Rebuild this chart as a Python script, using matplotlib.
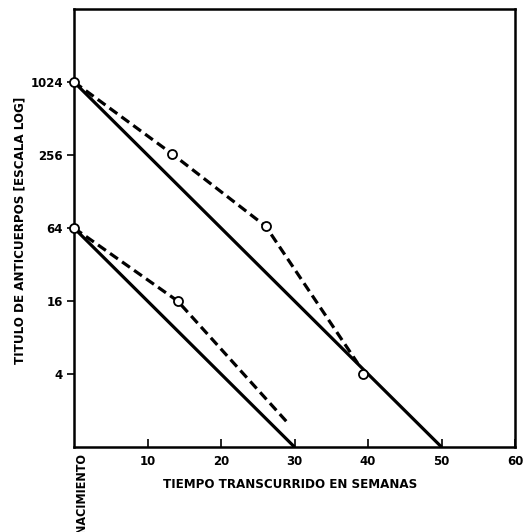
import matplotlib
matplotlib.use("Agg")
import matplotlib.pyplot as plt
from matplotlib.ticker import FixedLocator, NullLocator

# Solid reference lines (theoretical decay)
solid_hi_weeks = [0, 50]
solid_hi_titer = [1024, 1]
solid_lo_weeks = [0, 30]
solid_lo_titer = [64, 1]

# Dashed observed curves
dash_hi_weeks = [0, 13.4, 26.1, 38.6]
dash_hi_titer = [1024, 260, 66, 4.9]
dash_lo_weeks = [0, 14.1, 29.0]
dash_lo_titer = [64, 16, 1.6]

# Open-circle points
pts_hi_weeks = [0, 13.4, 26.1, 39.3]
pts_hi_titer = [1024, 260, 66, 4.0]
pts_lo_weeks = [0, 14.1]
pts_lo_titer = [64, 16]

y_ticks = [4, 16, 64, 256, 1024]
x_ticks = [10, 20, 30, 40, 50, 60]

W, H = 523, 532
fig = plt.figure(figsize=(W / 100, H / 100), dpi=100)
ax = fig.add_axes([74 / W, 1 - 447 / H, 441 / W, 438 / H])

ax.set_yscale("log", base=2)
ax.set_xlim(0, 60)
ax.set_ylim(1, 4096)

lw = 2.3
ax.plot(solid_hi_weeks, solid_hi_titer, color="black", lw=lw, solid_capstyle="butt")
ax.plot(solid_lo_weeks, solid_lo_titer, color="black", lw=lw, solid_capstyle="butt")
ax.plot(dash_hi_weeks, dash_hi_titer, color="black", lw=lw, ls=(0, (3.0, 1.6)))
ax.plot(dash_lo_weeks, dash_lo_titer, color="black", lw=lw, ls=(0, (3.0, 1.6)))

mk = dict(ls="none", marker="o", ms=6.5, mfc="white", mec="black", mew=1.3,
          zorder=5, clip_on=False)
ax.plot(pts_hi_weeks, pts_hi_titer, **mk)
ax.plot(pts_lo_weeks, pts_lo_titer, **mk)

for s in ax.spines.values():
    s.set_linewidth(1.8)

ax.yaxis.set_major_locator(FixedLocator(y_ticks))
ax.yaxis.set_minor_locator(NullLocator())
ax.set_yticklabels([str(v) for v in y_ticks], fontsize=8.5, fontweight="bold")
ax.tick_params(axis="y", direction="out", length=5, width=1.2, pad=3)

ax.xaxis.set_major_locator(FixedLocator(x_ticks))
ax.set_xticklabels([str(v) for v in x_ticks], fontsize=8.5, fontweight="bold")
ax.tick_params(axis="x", direction="in", length=6, width=1.2, pad=6)

# axis titles placed in pixel terms to match the scanned original
lab = dict(fontsize=9.5, fontstretch="condensed", fontweight="bold")
fig.text(290 / W, 1 - 485 / H, "TIEMPO TRANSCURRIDO EN SEMANAS",
         ha="center", va="center", **lab)
fig.text(20 / W, 1 - 230 / H, "TITULO DE ANTICUERPOS [ESCALA LOG]",
         rotation=90, ha="center", va="center", **lab)
fig.text(82 / W, 1 - 453 / H, "NACIMIENTO", rotation=90, ha="center", va="top",
         fontsize=9, fontstretch="condensed", fontweight="bold")

fig.savefig("out.png", dpi=100)
